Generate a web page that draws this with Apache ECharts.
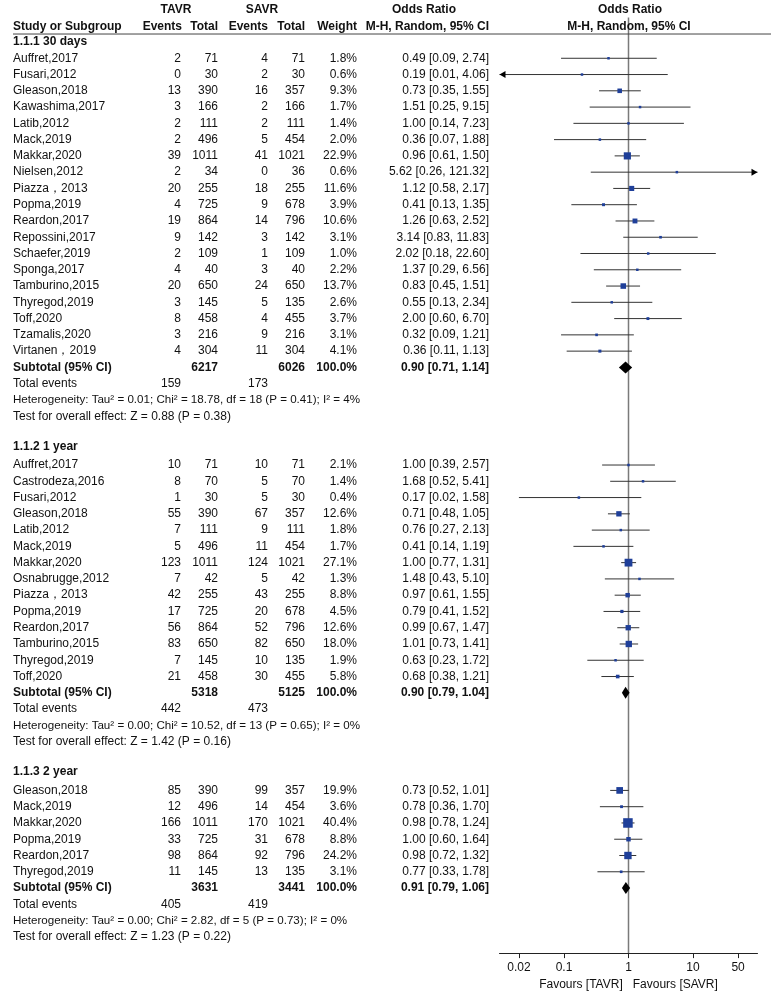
<!DOCTYPE html>
<html><head><meta charset="utf-8">
<script src="https://cdn.jsdelivr.net/npm/echarts@6/dist/echarts.min.js"></script>
<style>html,body{margin:0;padding:0;background:#fff}#c{width:772px;height:991px}</style>
</head><body><div id="c"></div>
<script>
// ---------- DATA ----------
const s1Title = '1.1.1 30 days';
const s1Names = ['Auffret,2017','Fusari,2012','Gleason,2018','Kawashima,2017','Latib,2012','Mack,2019','Makkar,2020','Nielsen,2012','Piazza，2013','Popma,2019','Reardon,2017','Repossini,2017','Schaefer,2019','Sponga,2017','Tamburino,2015','Thyregod,2019','Toff,2020','Tzamalis,2020','Virtanen，2019'];
const s1TavrEvents = [2,0,13,3,2,2,39,2,20,4,19,9,2,4,20,3,8,3,4];
const s1TavrTotal  = [71,30,390,166,111,496,1011,34,255,725,864,142,109,40,650,145,458,216,304];
const s1SavrEvents = [4,2,16,2,2,5,41,0,18,9,14,3,1,3,24,5,4,9,11];
const s1SavrTotal  = [71,30,357,166,111,454,1021,36,255,678,796,142,109,40,650,135,455,216,304];
const s1Weight = [1.8,0.6,9.3,1.7,1.4,2.0,22.9,0.6,11.6,3.9,10.6,3.1,1.0,2.2,13.7,2.6,3.7,3.1,4.1];
const s1OR   = [0.49,0.19,0.73,1.51,1.00,0.36,0.96,5.62,1.12,0.41,1.26,3.14,2.02,1.37,0.83,0.55,2.00,0.32,0.36];
const s1Low  = [0.09,0.01,0.35,0.25,0.14,0.07,0.61,0.26,0.58,0.13,0.63,0.83,0.18,0.29,0.45,0.13,0.60,0.09,0.11];
const s1High = [2.74,4.06,1.55,9.15,7.23,1.88,1.50,121.32,2.17,1.35,2.52,11.83,22.60,6.56,1.51,2.34,6.70,1.21,1.13];
const s1Subtotal = [6217, 6026, 100.0, 0.90, 0.71, 1.14];
const s1TotalEvents = [159, 173];
const s1Het  = 'Heterogeneity: Tau² = 0.01; Chi² = 18.78, df = 18 (P = 0.41); I² = 4%';
const s1Test = 'Test for overall effect: Z = 0.88 (P = 0.38)';

const s2Title = '1.1.2 1 year';
const s2Names = ['Auffret,2017','Castrodeza,2016','Fusari,2012','Gleason,2018','Latib,2012','Mack,2019','Makkar,2020','Osnabrugge,2012','Piazza，2013','Popma,2019','Reardon,2017','Tamburino,2015','Thyregod,2019','Toff,2020'];
const s2TavrEvents = [10,8,1,55,7,5,123,7,42,17,56,83,7,21];
const s2TavrTotal  = [71,70,30,390,111,496,1011,42,255,725,864,650,145,458];
const s2SavrEvents = [10,5,5,67,9,11,124,5,43,20,52,82,10,30];
const s2SavrTotal  = [71,70,30,357,111,454,1021,42,255,678,796,650,135,455];
const s2Weight = [2.1,1.4,0.4,12.6,1.8,1.7,27.1,1.3,8.8,4.5,12.6,18.0,1.9,5.8];
const s2OR   = [1.00,1.68,0.17,0.71,0.76,0.41,1.00,1.48,0.97,0.79,0.99,1.01,0.63,0.68];
const s2Low  = [0.39,0.52,0.02,0.48,0.27,0.14,0.77,0.43,0.61,0.41,0.67,0.73,0.23,0.38];
const s2High = [2.57,5.41,1.58,1.05,2.13,1.19,1.31,5.10,1.55,1.52,1.47,1.41,1.72,1.21];
const s2Subtotal = [5318, 5125, 100.0, 0.90, 0.79, 1.04];
const s2TotalEvents = [442, 473];
const s2Het  = 'Heterogeneity: Tau² = 0.00; Chi² = 10.52, df = 13 (P = 0.65); I² = 0%';
const s2Test = 'Test for overall effect: Z = 1.42 (P = 0.16)';

const s3Title = '1.1.3 2 year';
const s3Names = ['Gleason,2018','Mack,2019','Makkar,2020','Popma,2019','Reardon,2017','Thyregod,2019'];
const s3TavrEvents = [85,12,166,33,98,11];
const s3TavrTotal  = [390,496,1011,725,864,145];
const s3SavrEvents = [99,14,170,31,92,13];
const s3SavrTotal  = [357,454,1021,678,796,135];
const s3Weight = [19.9,3.6,40.4,8.8,24.2,3.1];
const s3OR   = [0.73,0.78,0.98,1.00,0.98,0.77];
const s3Low  = [0.52,0.36,0.78,0.60,0.72,0.33];
const s3High = [1.01,1.70,1.24,1.64,1.32,1.78];
const s3Subtotal = [3631, 3441, 100.0, 0.91, 0.79, 1.06];
const s3TotalEvents = [405, 419];
const s3Het  = 'Heterogeneity: Tau² = 0.00; Chi² = 2.82, df = 5 (P = 0.73); I² = 0%';
const s3Test = 'Test for overall effect: Z = 1.23 (P = 0.22)';

const tickValues = [0.02, 0.1, 1, 10, 50];
const axisName = 'Favours [TAVR]   Favours [SAVR]';

// ---------- LAYOUT ----------
const W = 772, H = 991;
const ROW_H = 16.27, ROW0_Y = 42;
const Y_MIN = -2.5, Y_MAX = 56;
const gridTop = ROW0_Y + Y_MIN * ROW_H;
const gridBottom = H - (ROW0_Y + Y_MAX * ROW_H);
const X_MIN = 0.01, X_MAX = 100;
const FONT = '"Liberation Sans", Arial, Helvetica, sans-serif';
const TXT = '#111';
const COL = {name: 13, te: 181, tt: 218, se: 268, st: 305, w: 357, or: 489};

const T = []; // table text items: [x,row,text,align,bold,size]
const F = []; // forest items: [or,row,lo,hi,weight,kind]
const f2 = v => v.toFixed(2);

function addSection(start, title, names, te, tt, se, st, w, or, lo, hi, sub, tev, het, test) {
  T.push([COL.name, start - (start > 0 ? 0.15 : 0), title, 'left', 1, 12]);
  names.forEach((n, i) => {
    const r = start + 1 + i;
    T.push([COL.name, r, n, 'left', 0, 12]);
    T.push([COL.te, r, String(te[i]), 'right', 0, 12]);
    T.push([COL.tt, r, String(tt[i]), 'right', 0, 12]);
    T.push([COL.se, r, String(se[i]), 'right', 0, 12]);
    T.push([COL.st, r, String(st[i]), 'right', 0, 12]);
    T.push([COL.w, r, w[i].toFixed(1) + '%', 'right', 0, 12]);
    T.push([COL.or, r, f2(or[i]) + ' [' + f2(lo[i]) + ', ' + f2(hi[i]) + ']', 'right', 0, 12]);
    F.push([or[i], r, lo[i], hi[i], w[i], 0]);
  });
  const rs = start + 1 + names.length;
  T.push([COL.name, rs, 'Subtotal (95% CI)', 'left', 1, 12]);
  T.push([COL.tt, rs, String(sub[0]), 'right', 1, 12]);
  T.push([COL.st, rs, String(sub[1]), 'right', 1, 12]);
  T.push([COL.w, rs, sub[2].toFixed(1) + '%', 'right', 1, 12]);
  T.push([COL.or, rs, f2(sub[3]) + ' [' + f2(sub[4]) + ', ' + f2(sub[5]) + ']', 'right', 1, 12]);
  F.push([sub[3], rs, sub[4], sub[5], 100, 1]);
  T.push([COL.name, rs + 1, 'Total events', 'left', 0, 12]);
  T.push([COL.te, rs + 1, String(tev[0]), 'right', 0, 12]);
  T.push([COL.se, rs + 1, String(tev[1]), 'right', 0, 12]);
  T.push([COL.name, rs + 2, het, 'left', 0, 11.6]);
  T.push([COL.name, rs + 3, test, 'left', 0, 12]);
  return rs + 5;
}

// header
T.push([176, -2, 'TAVR', 'center', 1, 12]);
T.push([262, -2, 'SAVR', 'center', 1, 12]);
T.push([424, -2, 'Odds Ratio', 'center', 1, 12]);
T.push([630, -2, 'Odds Ratio', 'center', 1, 12]);
const hr = -0.93;
T.push([COL.name, hr, 'Study or Subgroup', 'left', 1, 12]);
T.push([182, hr, 'Events', 'right', 1, 12]);
T.push([218, hr, 'Total', 'right', 1, 12]);
T.push([268, hr, 'Events', 'right', 1, 12]);
T.push([305, hr, 'Total', 'right', 1, 12]);
T.push([357, hr, 'Weight', 'right', 1, 12]);
T.push([489, hr, 'M-H, Random, 95% CI', 'right', 1, 12]);
T.push([629, hr, 'M-H, Random, 95% CI', 'center', 1, 12]);

let next = 0;
next = addSection(next, s1Title, s1Names, s1TavrEvents, s1TavrTotal, s1SavrEvents, s1SavrTotal, s1Weight, s1OR, s1Low, s1High, s1Subtotal, s1TotalEvents, s1Het, s1Test);
next = addSection(next, s2Title, s2Names, s2TavrEvents, s2TavrTotal, s2SavrEvents, s2SavrTotal, s2Weight, s2OR, s2Low, s2High, s2Subtotal, s2TotalEvents, s2Het, s2Test);
next = addSection(next, s3Title, s3Names, s3TavrEvents, s3TavrTotal, s3SavrEvents, s3SavrTotal, s3Weight, s3OR, s3Low, s3High, s3Subtotal, s3TotalEvents, s3Het, s3Test);

const chart = echarts.init(document.getElementById('c'), null, {renderer: 'canvas', width: W, height: H});
const fmtTick = v => String(Number(Number(v).toPrecision(3)));

chart.setOption({
  animation: false,
  backgroundColor: '#fff',
  grid: [
    {left: 0, right: 0, top: gridTop, bottom: gridBottom, containLabel: false, outerBoundsMode: 'none'},
    {left: 499.5, right: 14.5, top: gridTop, bottom: gridBottom, containLabel: false, outerBoundsMode: 'none'}
  ],
  xAxis: [
    {gridIndex: 0, type: 'value', min: 0, max: W, show: false},
    {gridIndex: 1, type: 'log', logBase: 10, min: X_MIN, max: X_MAX, position: 'bottom',
     axisLine: {show: true, onZero: false, lineStyle: {color: '#222', width: 1}},
     axisTick: {show: true, length: 5, lineStyle: {color: '#222', width: 1}, customValues: tickValues},
     axisLabel: {show: true, margin: 9, color: TXT, fontSize: 12, fontFamily: FONT, customValues: tickValues, formatter: fmtTick},
     splitLine: {show: false}, minorTick: {show: false},
     name: axisName, nameLocation: 'middle', nameGap: 25,
     nameTextStyle: {color: TXT, fontSize: 12, fontFamily: FONT}}
  ],
  yAxis: [
    {gridIndex: 0, type: 'value', min: Y_MIN, max: Y_MAX, inverse: true, show: false},
    {gridIndex: 1, type: 'value', min: Y_MIN, max: Y_MAX, inverse: true, show: false}
  ],
  series: [
    {type: 'line', xAxisIndex: 0, yAxisIndex: 0, silent: true, symbol: 'none',
     data: [[13, -0.49], [771, -0.49]], lineStyle: {color: '#444', width: 1}},
    {type: 'line', xAxisIndex: 1, yAxisIndex: 1, silent: true, symbol: 'none',
     data: [[1, -1.5], [1, Y_MAX]], lineStyle: {color: '#7a7a7a', width: 1.5}, z: 1},
    {type: 'custom', xAxisIndex: 0, yAxisIndex: 0, silent: true,
     data: T.map((d, i) => [d[0], d[1], i]),
     encode: {x: 0, y: 1},
     renderItem: (params, api) => {
       const d = T[api.value(2)];
       const p = api.coord([d[0], d[1]]);
       return {type: 'text', x: p[0], y: p[1],
         style: {text: d[2], align: d[3], verticalAlign: 'middle',
                 font: (d[4] ? 'bold ' : '') + d[5] + 'px ' + FONT, fill: TXT}};
     }},
    {type: 'custom', xAxisIndex: 1, yAxisIndex: 1, silent: true, z: 3,
     data: F,
     encode: {x: 0, y: 1},
     renderItem: (params, api) => {
       const or = api.value(0), row = api.value(1), lo = api.value(2), hi = api.value(3), w = api.value(4), kind = api.value(5);
       const pc = api.coord([or, row]);
       const pl = api.coord([Math.max(lo, X_MIN), row]);
       const pr = api.coord([Math.min(hi, X_MAX), row]);
       const y = pc[1];
       const children = [];
       if (kind === 1) {
         children.push({type: 'polygon', shape: {points: [[pl[0], y], [pc[0], y - 6], [pr[0], y], [pc[0], y + 6]]},
           style: {fill: '#000'}});
       } else {
         children.push({type: 'line', shape: {x1: pl[0], y1: y, x2: pr[0], y2: y}, style: {stroke: '#333', lineWidth: 1}});
         if (lo <= X_MIN) children.push({type: 'polygon', shape: {points: [[pl[0], y], [pl[0] + 6, y - 3.5], [pl[0] + 6, y + 3.5]]}, style: {fill: '#000'}});
         if (hi >= X_MAX) children.push({type: 'polygon', shape: {points: [[pr[0], y], [pr[0] - 6, y - 3.5], [pr[0] - 6, y + 3.5]]}, style: {fill: '#000'}});
         const s = Math.max(2.5, 1.5 * Math.sqrt(w));
         children.push({type: 'rect', shape: {x: pc[0] - s / 2, y: y - s / 2, width: s, height: s}, style: {fill: '#1f3f99'}});
       }
       return {type: 'group', children};
     }}
  ]
});
</script></body></html>
